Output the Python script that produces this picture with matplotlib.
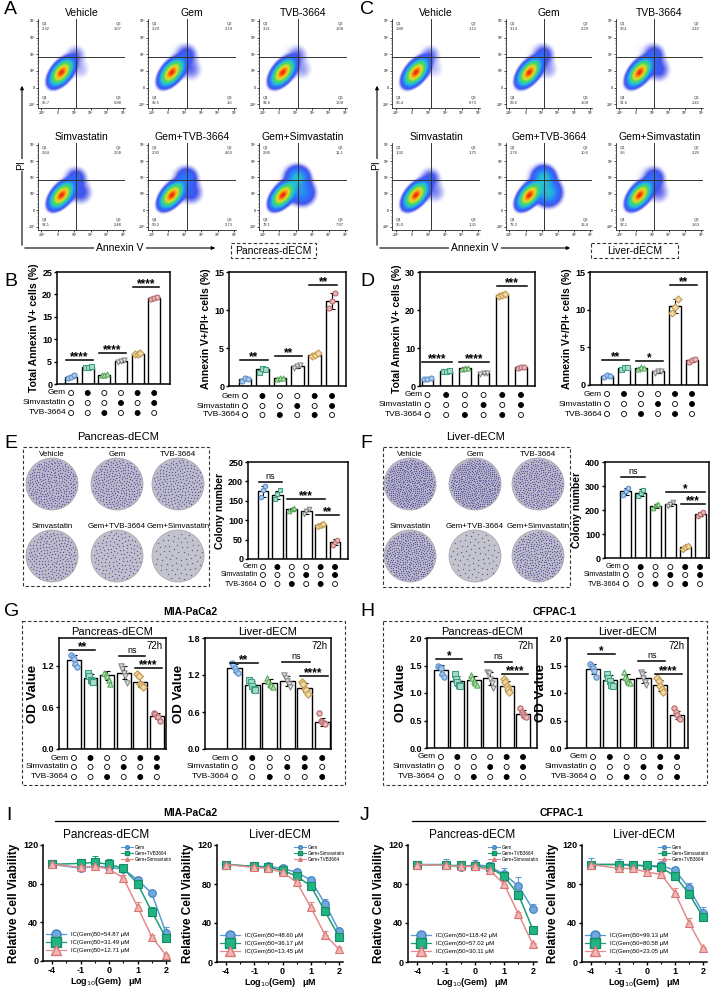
import numpy as np
import matplotlib
matplotlib.use("Agg")
import matplotlib.pyplot as plt
import matplotlib.transforms as mtransforms
from matplotlib.patches import Rectangle, Circle
from matplotlib.lines import Line2D
from matplotlib.colors import LinearSegmentedColormap, to_rgb

plt.rcParams['font.family'] = ['Liberation Sans', 'DejaVu Sans']
plt.rcParams['axes.linewidth'] = 1.1

# ---------------- data ----------------
TREAT = ['Vehicle', 'Gem', 'TVB-3664', 'Simvastatin', 'Gem+TVB-3664', 'Gem+Simvastatin']

# flow cytometry quadrant percentages (Q1 top-left, Q2 top-right, Q3 bottom-right, Q4 bottom-left)
FLOW_A_Q1 = [2.32, 3.29, 3.21, 2.64, 2.92, 2.86]
FLOW_A_Q2 = [1.07, 2.19, 1.08, 2.58, 4.63, 11.1]
FLOW_A_Q3 = [0.88, 1.60, 1.09, 2.48, 2.73, 7.97]
FLOW_A_Q4 = [95.7, 92.5, 94.6, 92.1, 90.2, 78.1]
FLOW_C_Q1 = [1.88, 3.14, 3.51, 1.92, 2.76, 3.60]
FLOW_C_Q2 = [1.13, 2.29, 2.42, 1.75, 10.6, 3.26]
FLOW_C_Q3 = [0.73, 1.09, 2.45, 1.35, 13.4, 1.63]
FLOW_C_Q4 = [96.4, 93.6, 91.6, 95.0, 73.2, 92.1]

# B / D apoptosis bars
B_TOTAL = [1.6, 3.9, 2.1, 5.1, 6.8, 19.2]
B_TOTAL_REP = [[1.3, 1.6, 1.9], [3.8, 3.9, 4.0], [1.9, 2.1, 2.2], [4.9, 5.1, 5.3], [6.6, 6.8, 6.9], [19.0, 19.2, 19.4]]
B_DOUBLE = [0.9, 2.2, 1.0, 2.6, 4.1, 11.2]
B_DOUBLE_REP = [[0.7, 1.0, 0.9], [1.9, 2.4, 2.3], [0.9, 1.1, 1.0], [2.4, 2.6, 2.8], [3.9, 4.1, 4.3], [10.2, 11.2, 12.3]]
D_TOTAL = [1.9, 4.0, 4.7, 3.3, 23.9, 4.9]
D_TOTAL_REP = [[1.8, 1.9, 2.0], [3.9, 4.0, 4.1], [4.5, 4.8, 4.8], [3.1, 3.3, 3.4], [23.6, 24.0, 24.2], [4.8, 5.0, 4.9]]
D_DOUBLE = [1.2, 2.3, 2.3, 1.8, 10.5, 3.3]
D_DOUBLE_REP = [[1.0, 1.3, 1.2], [2.1, 2.4, 2.4], [2.1, 2.4, 2.3], [1.6, 1.9, 1.8], [9.5, 10.4, 11.4], [3.1, 3.3, 3.5]]

# E / F colony numbers
COLONY_P = [175, 165, 128, 123, 87, 43]
COLONY_P_REP = [[160, 178, 188], [155, 168, 178], [125, 128, 132], [116, 124, 128], [84, 87, 90], [35, 45, 50]]
COLONY_L = [278, 272, 218, 225, 45, 183]
COLONY_L_REP = [[262, 280, 292], [258, 270, 285], [208, 220, 225], [215, 225, 232], [38, 45, 50], [175, 183, 192]]

# G / H OD values
OD_MP_P = [1.28, 1.03, 1.06, 1.10, 0.97, 0.48]
OD_MP_P_REP = [[1.36, 1.33, 1.30, 1.22, 1.18], [1.10, 1.05, 1.00, 0.98, 0.97], [1.10, 1.08, 1.05, 1.00, 0.93],
               [1.20, 1.15, 1.10, 1.05, 0.95], [1.08, 1.05, 0.93, 0.92, 0.90], [0.52, 0.50, 0.48, 0.46, 0.40]]
OD_MP_L = [1.31, 1.04, 1.07, 1.10, 0.99, 0.44]
OD_MP_L_REP = [[1.40, 1.36, 1.32, 1.26, 1.24], [1.12, 1.08, 1.02, 0.98, 0.96], [1.15, 1.10, 1.06, 1.03, 1.00],
               [1.20, 1.15, 1.10, 1.05, 1.00], [1.08, 1.05, 0.98, 0.95, 0.90], [0.58, 0.46, 0.44, 0.42, 0.41]]
OD_CF_P = [1.42, 1.22, 1.23, 1.27, 1.13, 0.62]
OD_CF_P_REP = [[1.50, 1.47, 1.45, 1.35, 1.30], [1.35, 1.25, 1.20, 1.15, 1.12], [1.33, 1.28, 1.22, 1.18, 1.15],
               [1.38, 1.36, 1.25, 1.18, 1.10], [1.25, 1.20, 1.12, 1.08, 1.02], [0.72, 0.66, 0.62, 0.58, 0.56]]
OD_CF_L = [1.43, 1.23, 1.26, 1.28, 1.14, 0.60]
OD_CF_L_REP = [[1.52, 1.50, 1.45, 1.40, 1.30], [1.35, 1.28, 1.22, 1.15, 1.12], [1.38, 1.30, 1.25, 1.20, 1.18],
               [1.38, 1.35, 1.28, 1.20, 1.15], [1.28, 1.22, 1.12, 1.08, 1.02], [0.72, 0.65, 0.60, 0.55, 0.52]]

ROWS_STD = [('Gem', [0, 1, 0, 0, 1, 1]), ('Simvastatin', [0, 0, 0, 1, 0, 1]), ('TVB-3664', [0, 0, 1, 0, 1, 0])]
ROWS_LIV = [('Gem', [0, 1, 0, 0, 1, 1]), ('Simvastatin', [0, 0, 0, 1, 1, 0]), ('TVB-3664', [0, 0, 1, 0, 0, 1])]

# I / J dose response
DOSE_LABELS = ['-4', '-1', '0', '1', '2']
DOSE_POS = [-2, -1, -0.5, 0, 0.5, 1, 1.5, 2]   # -4 drawn at axis break position -2
I_P_GEM = [100, 96, 98, 97, 95, 84, 70, 29]
I_P_GEM_ERR = [4, 3, 3, 3, 3, 3, 2, 6]
I_P_TVB = [100, 101, 102, 100, 96, 80, 51, 24]
I_P_TVB_ERR = [3, 5, 7, 6, 3, 4, 5, 3]
I_P_SIM = [100, 97, 98, 95, 86, 56, 25, 6]
I_P_SIM_ERR = [2, 2, 2, 3, 3, 5, 2, 1]
I_L_GEM = [100, 98, 98, 96, 92, 84, 60, 32]
I_L_GEM_ERR = [2, 2, 2, 2, 3, 3, 5, 2]
I_L_SIM = [100, 98, 97, 94, 88, 78, 52, 26]
I_L_SIM_ERR = [2, 2, 2, 2, 3, 3, 4, 2]
I_L_TVB = [100, 97, 96, 92, 82, 56, 28, 13]
I_L_TVB_ERR = [2, 2, 2, 2, 3, 6, 4, 2]
J_P_GEM = [100, 100, 97, 100, 98, 90, 78, 54]
J_P_GEM_ERR = [4, 6, 3, 5, 5, 6, 9, 6]
J_P_TVB = [100, 99, 99, 98, 97, 88, 69, 33]
J_P_TVB_ERR = [3, 3, 4, 3, 4, 3, 4, 2]
J_P_SIM = [100, 99, 98, 98, 94, 80, 49, 18]
J_P_SIM_ERR = [2, 2, 2, 2, 2, 3, 2, 1]
J_L_GEM = [100, 100, 100, 98, 99, 94, 76, 50]
J_L_GEM_ERR = [7, 6, 3, 3, 4, 3, 5, 6]
J_L_SIM = [100, 100, 99, 99, 97, 88, 70, 46]
J_L_SIM_ERR = [3, 3, 2, 4, 4, 3, 4, 3]
J_L_TVB = [100, 96, 96, 92, 90, 71, 40, 14]
J_L_TVB_ERR = [2, 2, 2, 2, 2, 5, 5, 1]

# ---------------- styles ----------------
MARKS = ['o', 's', '^', 'v', 'D', 'o']
EDGE = ['#5b8fcc', '#3f9f86', '#5aa85a', '#888888', '#c39a4f', '#b86a6a']
FACE = ['#a9c8ea', '#a8dcc8', '#c5e6c0', '#e4e4e4', '#f0d9a8', '#e8b8b8']
BLUE, GREEN, RED = '#5b9bd5', '#1a9e76', '#e48c8c'

W, H = 713, 989
fig = plt.figure(figsize=(W / 100, H / 100), dpi=100)
over = fig.add_axes([0, 0, 1, 1], zorder=5)
over.set_xlim(0, W)
over.set_ylim(H, 0)
over.axis('off')


def px_axes(x0, y0, x1, y1):
    return fig.add_axes([x0 / W, 1 - y1 / H, (x1 - x0) / W, (y1 - y0) / H])


def bold_ticks(ax):
    for t in ax.get_xticklabels() + ax.get_yticklabels():
        t.set_fontweight('bold')


# ---------------- flow cytometry ----------------
flow_cmap = LinearSegmentedColormap.from_list('flow', [
    (0, '#3a44e8'), (0.3, '#1f6dff'), (0.55, '#19c6c6'), (0.72, '#45d452'),
    (0.86, '#dfe01f'), (0.95, '#ff8a00'), (1, '#e42000')])


def flow_panel(rect, title, q1, q2, q3, q4):
    ax = px_axes(*rect)
    g = np.linspace(0, 1, 200)
    X, Y = np.meshgrid(g, g)
    ang = np.deg2rad(50)
    dx, dy = X - 0.27, Y - 0.40
    u = dx * np.cos(ang) + dy * np.sin(ang)
    v = -dx * np.sin(ang) + dy * np.cos(ang)
    su, sv = 0.075, 0.042
    d = q4 / (su * sv) * np.exp(-0.5 * (u ** 2 / su ** 2 + v ** 2 / sv ** 2))
    d += q2 / 0.065 ** 2 * np.exp(-0.5 * ((X - 0.44) ** 2 + (Y - 0.60) ** 2) / 0.065 ** 2)
    d += q3 / 0.075 ** 2 * np.exp(-0.5 * ((X - 0.49) ** 2 + (Y - 0.43) ** 2) / 0.075 ** 2)
    d += 0.4 * q1 / 0.16 ** 2 * np.exp(-0.5 * ((X - 0.25) ** 2 + (Y - 0.66) ** 2) / 0.16 ** 2)
    lv = np.log10(d / d.max() + 1e-12)
    c = np.clip((lv + 2.0) / 2.0, 0, 1)
    rgba = flow_cmap(c)
    a = np.clip((lv + 2.8) / 0.9, 0, 1)
    rgba[..., 3] = a ** 1.8 * 0.95
    ax.imshow(rgba, origin='lower', extent=(0, 1, 0, 1), aspect='auto', interpolation='bilinear')
    ax.axvline(0.44, color='#333333', lw=0.7)
    ax.axhline(0.57, color='#333333', lw=0.7)
    ax.set_xlim(0, 1)
    ax.set_ylim(0, 1)
    tk = np.linspace(0.04, 0.98, 6)
    labs = ['-10³', '0', '10³', '10⁴', '10⁵', '10⁶']
    ax.set_xticks(tk)
    ax.set_xticklabels(labs, fontsize=2.5)
    ax.set_yticks(tk)
    ax.set_yticklabels(labs, fontsize=2.5)
    ax.set_xticks(np.linspace(0.04, 0.98, 26), minor=True)
    ax.set_yticks(np.linspace(0.04, 0.98, 26), minor=True)
    ax.tick_params(length=1.5, width=0.5, pad=0.5)
    ax.tick_params(which='minor', length=0.8, width=0.3)
    for s in ['top', 'right']:
        ax.spines[s].set_visible(False)
    for s in ['left', 'bottom']:
        ax.spines[s].set_linewidth(0.5)
    kw = dict(fontsize=3, transform=ax.transAxes, color='#333333', linespacing=1.6)
    ax.text(0.04, 0.97, f'Q1\n{q1}', va='top', ha='left', **kw)
    ax.text(0.96, 0.97, f'Q2\n{q2}', va='top', ha='right', **kw)
    ax.text(0.04, 0.03, f'Q4\n{q4}', va='bottom', ha='left', **kw)
    ax.text(0.96, 0.03, f'Q3\n{q3}', va='bottom', ha='right', **kw)
    ax.set_title(title, fontsize=7.5, pad=2.5)


def flow_block(cols, q1s, q2s, q3s, q4s, ax_x, box_x, box_text):
    rows = [(19, 108), (143, 230)]
    for k in range(6):
        cx = cols[k % 3]
        ry = rows[k // 3]
        flow_panel((cx[0], ry[0], cx[1], ry[1]), TREAT[k], q1s[k], q2s[k], q3s[k], q4s[k])
    over.annotate('', xy=(ax_x, 83), xytext=(ax_x, 248),
                  arrowprops=dict(arrowstyle='-|>', lw=0.8, color='black', mutation_scale=5))
    over.annotate('', xy=(ax_x + 196, 248), xytext=(ax_x, 248),
                  arrowprops=dict(arrowstyle='-|>', lw=0.8, color='black', mutation_scale=5))
    over.text(ax_x - 1, 165, 'PI', rotation=90, ha='center', va='center', fontsize=7.5,
              bbox=dict(fc='white', ec='none', pad=1))
    over.text(ax_x + 98, 248, 'Annexin V', ha='center', va='center', fontsize=7.5,
              bbox=dict(fc='white', ec='none', pad=1.5))
    over.add_patch(Rectangle((box_x[0], 243), box_x[1] - box_x[0], 15, fill=False,
                             ls=(0, (3, 2)), lw=0.8, ec='#333333'))
    over.text((box_x[0] + box_x[1]) / 2, 250.5, box_text, ha='center', va='center', fontsize=7.5)


flow_block([(38, 125), (148, 236), (259, 347)], FLOW_A_Q1, FLOW_A_Q2, FLOW_A_Q3, FLOW_A_Q4,
           22, (231, 316), 'Pancreas-dECM')
flow_block([(392, 480), (506, 592), (616, 703)], FLOW_C_Q1, FLOW_C_Q2, FLOW_C_Q3, FLOW_C_Q4,
           377, (591, 678), 'Liver-dECM')


# ---------------- bar panels ----------------
def bar_panel(rect, xlim, means, reps, ylim, yticks, ylabel, sigs, rows, row_y,
              width=0.72, ms=3.6, ylab_size=7.5, tick_fmt=None, tag72=False, row_fs=6.0):
    ax = px_axes(*rect)
    xs = np.arange(len(means))
    ax.bar(xs, means, width, color='white', edgecolor='black', linewidth=1.0, zorder=2)
    for i in xs:
        r = np.asarray(reps[i], dtype=float)
        sd = r.std(ddof=1)
        ax.errorbar(i, means[i], yerr=sd, color='black', lw=0.8, capsize=1.8, capthick=0.8, zorder=3)
        off = np.linspace(-0.17, 0.17, len(r))
        ax.scatter(i + off, r, marker=MARKS[i], s=ms ** 2, facecolor=FACE[i], edgecolor=EDGE[i],
                   linewidth=0.8, zorder=4, clip_on=False)
    for i, j, y, t in sigs:
        ax.plot([i - 0.3, j + 0.3], [y, y], color='black', lw=1.1, zorder=5, clip_on=False)
        if '*' in t:
            ax.annotate(t, ((i + j) / 2, y), xytext=(0, -2.2), textcoords='offset points',
                        ha='center', va='bottom', fontsize=8.5, fontweight='bold', annotation_clip=False)
        else:
            ax.annotate(t, ((i + j) / 2, y), xytext=(0, 0.8), textcoords='offset points',
                        ha='center', va='bottom', fontsize=6.5, annotation_clip=False)
    ax.set_xlim(*xlim)
    ax.set_ylim(*ylim)
    ax.set_yticks(yticks)
    if tick_fmt:
        ax.set_yticklabels([tick_fmt.format(t) for t in yticks])
    ax.set_xticks([])
    ax.tick_params(axis='y', labelsize=6.5, length=2.5, width=1.0, pad=1)
    bold_ticks(ax)
    ax.set_ylabel(ylabel, fontsize=ylab_size, fontweight='bold', labelpad=2)
    if tag72:
        ax.text(0.97, 0.97, '72h', transform=ax.transAxes, ha='right', va='top', fontsize=7)
    tr = mtransforms.blended_transform_factory(ax.transData, over.transData)
    x0px = rect[0] + (0 - xlim[0]) / (xlim[1] - xlim[0]) * (rect[2] - rect[0])
    for (name, flags), yy in zip(rows, row_y):
        ax.scatter(xs, [yy] * len(xs), s=13, transform=tr, clip_on=False, zorder=6,
                   facecolor=['black' if f else 'white' for f in flags], edgecolor='black', linewidth=0.6)
        over.text(x0px - 5, yy, name, ha='right', va='center', fontsize=row_fs)
    return ax


# B
bar_panel((57, 272, 170, 384), (-0.85, 5.95), B_TOTAL, B_TOTAL_REP, (0, 25), [0, 5, 10, 15, 20, 25],
          'Total Annexin V+ cells (%)', [(0, 1, 5.4, '****'), (2, 3, 6.9, '****'), (4, 5, 21.6, '****')],
          ROWS_STD, (393, 403, 413))
bar_panel((229, 272, 346, 386), (-0.92, 5.8), B_DOUBLE, B_DOUBLE_REP, (0, 15), [0, 5, 10, 15],
          'Annexin V+/PI+ cells (%)', [(0, 1, 3.4, '**'), (2, 3, 3.9, '**'), (4, 5, 13.3, '**')],
          ROWS_STD, (396, 406, 415))
# D
bar_panel((420, 272, 535, 386), (-0.4, 5.75), D_TOTAL, D_TOTAL_REP, (0, 30), [0, 10, 20, 30],
          'Total Annexin V+ cells (%)', [(0, 1, 6.3, '****'), (2, 3, 6.3, '****'), (4, 5, 26.3, '***')],
          ROWS_STD, (395, 405, 415), width=0.62)
bar_panel((590, 272, 707, 385), (-1.0, 5.88), D_DOUBLE, D_DOUBLE_REP, (0, 15), [0, 5, 10, 15],
          'Annexin V+/PI+ cells (%)', [(0, 1, 3.3, '**'), (2, 3, 3.2, '*'), (4, 5, 13.3, '**')],
          ROWS_STD, (394, 404, 414))
# E / F bars
bar_panel((248, 462, 348, 559), (-1.04, 5.9), COLONY_P, COLONY_P_REP, (0, 250), [0, 50, 100, 150, 200, 250],
          'Colony number', [(0, 1, 198, 'ns'), (2, 4, 155, '***'), (4, 5, 113, '**')],
          ROWS_STD, (567, 575, 584), width=0.75, ms=3.2, row_fs=5.2)
bar_panel((605, 462, 709, 558), (-1.4, 5.6), COLONY_L, COLONY_L_REP, (0, 400), [0, 100, 200, 300, 400],
          'Colony number', [(0, 1, 337, 'ns'), (3, 5, 275, '*'), (4, 5, 225, '***')],
          ROWS_STD, (567, 575, 584), width=0.75, ms=3.2, row_fs=5.2)
# G
axg = bar_panel((59, 638, 166, 749), (-0.9, 5.55), OD_MP_P, OD_MP_P_REP, (0, 1.6), [0, 0.6, 1.2],
                'OD Value', [(0, 1, 1.43, '**'), (3, 4, 1.34, 'ns'), (4, 5, 1.17, '****')],
                ROWS_STD, (758, 767, 777), width=0.84, ms=3.8, ylab_size=9.5, tick_fmt='{:.1f}', tag72=True)
axg.set_title('Pancreas-dECM', fontsize=8, pad=2)
axg = bar_panel((205, 638, 331, 749), (-1.7, 5.5), OD_MP_L, OD_MP_L_REP, (0, 1.8), [0, 0.6, 1.2, 1.8],
                'OD Value', [(0, 1, 1.39, '**'), (3, 4, 1.41, 'ns'), (4, 5, 1.18, '****')],
                ROWS_LIV, (758, 767, 777), width=0.84, ms=3.8, ylab_size=9.5, tick_fmt='{:.1f}', tag72=True)
axg.set_title('Liver-dECM', fontsize=8, pad=2)
# H
axh = bar_panel((427, 638, 537, 748), (-0.85, 5.85), OD_CF_P, OD_CF_P_REP, (0, 2.0), [0, 0.5, 1.0, 1.5, 2.0],
                'OD Value', [(0, 1, 1.62, '*'), (3, 4, 1.56, 'ns'), (4, 5, 1.35, '****')],
                ROWS_STD, (757, 767, 777), width=0.84, ms=3.8, ylab_size=9.5, tick_fmt='{:.1f}', tag72=True)
axh.set_title('Pancreas-dECM', fontsize=8, pad=2)
axh = bar_panel((567, 638, 688, 748), (-1.55, 5.65), OD_CF_L, OD_CF_L_REP, (0, 2.0), [0, 0.5, 1.0, 1.5, 2.0],
                'OD Value', [(0, 1, 1.71, '*'), (3, 4, 1.58, 'ns'), (4, 5, 1.35, '****')],
                ROWS_LIV, (757, 767, 777), width=0.84, ms=3.8, ylab_size=9.5, tick_fmt='{:.1f}', tag72=True)
axh.set_title('Liver-dECM', fontsize=8, pad=2)


# ---------------- colony plates ----------------
def plates(cols, colonies, title, title_x, box):
    over.add_patch(Rectangle((box[0], box[1]), box[2] - box[0], box[3] - box[1], fill=False,
                             ls=(0, (3, 2)), lw=0.8, ec='#333333'))
    over.text(title_x, 437, title, ha='center', va='center', fontsize=8)
    rows = [(455, 484), (527, 556)]
    gray = np.array(to_rgb('#c6c6cc'))
    purple = np.array(to_rgb('#8a82c0'))
    cmax = max(colonies)
    for k in range(6):
        cx = cols[k % 3]
        ly, cy = rows[k // 3]
        frac = colonies[k] / cmax
        fc = gray * (1 - 0.2 * frac) + purple * 0.2 * frac
        over.add_patch(Circle((cx, cy), 26, fc=fc, ec='#a0a0a8', lw=0.5))
        n = int(colonies[k] * 1.6)
        idx = np.arange(1, n + 1)
        rr = 24.5 * np.sqrt(idx / n)
        th = idx * 2.39996
        over.scatter(cx + rr * np.cos(th), cy + rr * np.sin(th), s=1.0, color='#3c2f92',
                     alpha=0.7, linewidths=0)
        over.text(cx, ly, TREAT[k], ha='center', va='center', fontsize=5.8)


plates([52, 117, 178], COLONY_P, 'Pancreas-dECM', 118, (23, 447, 209, 586))
plates([410, 475, 538], COLONY_L, 'Liver-dECM', 476, (383, 447, 570, 587))

# G / H boxes
over.add_patch(Rectangle((22, 621), 323, 164, fill=False, ls=(0, (3, 2)), lw=0.8, ec='#333333'))
over.add_patch(Rectangle((383, 621), 324, 164, fill=False, ls=(0, (3, 2)), lw=0.8, ec='#333333'))
over.text(190, 612, 'MIA-PaCa2', ha='center', va='center', fontsize=7.5, fontweight='bold')
over.text(555, 612, 'CFPAC-1', ha='center', va='center', fontsize=7.5, fontweight='bold')


# ---------------- dose response ----------------
def curve_panel(rect, title, series, top_labels, ic_labels):
    ax = px_axes(*rect)
    handles_s, handles_b = [], []
    for (vals, errs, col, face, edge, mk) in series:
        ax.errorbar(DOSE_POS, vals, yerr=[np.zeros(len(errs)), errs], color=col, marker=mk, ms=5.5,
                    mfc=face, mec=edge, mew=0.8, lw=1.1, capsize=2, elinewidth=0.8, capthick=0.8,
                    clip_on=False, zorder=3)
        handles_s.append(Line2D([], [], color=col, marker=mk, ms=2.6, mfc=face, mec=edge, lw=0.8))
        handles_b.append(Line2D([], [], color=col, marker=mk, ms=6.5, mfc=face, mec=edge, lw=0.9))
    ax.set_xlim(-2.32, 2.14)
    ax.set_ylim(0, 120)
    ax.set_xticks([-2, -1, 0, 1, 2])
    ax.set_xticklabels(DOSE_LABELS)
    ax.set_xticks([-1.5, -0.5, 0.5, 1.5], minor=True)
    ax.set_yticks([0, 40, 80, 120])
    ax.tick_params(labelsize=6.5, length=2.5, width=1.0, pad=1)
    ax.tick_params(which='minor', length=1.6, width=0.8)
    bold_ticks(ax)
    for s in ['top', 'right']:
        ax.spines[s].set_visible(False)
    ax.set_ylabel('Relative Cell Viability', fontsize=8.5, fontweight='bold', labelpad=2)
    ax.set_xlabel('Log$_{10}$(Gem)   μM', fontsize=6.5, fontweight='bold', labelpad=0)
    ax.set_title(title, fontsize=8.5, pad=5)
    leg1 = ax.legend(handles_s, top_labels, loc='upper right', bbox_to_anchor=(1.04, 1.03), fontsize=3.3,
                     frameon=False, handlelength=2.6, handletextpad=0.4, labelspacing=0.25, borderpad=0.2)
    ax.add_artist(leg1)
    ax.legend(handles_b, ic_labels, loc='lower left', bbox_to_anchor=(-0.01, 0.03), fontsize=4.3,
              frameon=False, handlelength=3.4, handletextpad=0.8, labelspacing=0.5, borderpad=0.2)
    return ax


def s_gem(v, e):
    return (v, e, BLUE, '#6fa8dc', '#3f80c0', 'o')


def s_green(v, e):
    return (v, e, GREEN, '#22b383', '#178a66', 's')


def s_red(v, e):
    return (v, e, RED, '#f4b4b4', '#d87676', '^')


curve_panel((43, 845, 170, 961), 'Pancreas-dECM',
            [s_gem(I_P_GEM, I_P_GEM_ERR), s_green(I_P_TVB, I_P_TVB_ERR), s_red(I_P_SIM, I_P_SIM_ERR)],
            ['Gem', 'Gem+TVB3664', 'Gem+Simvastatin'],
            ['IC(Gem)50=54.87 μM', 'IC(Gem)50=31.49 μM', 'IC(Gem)50=12.71 μM'])
curve_panel((217, 845, 343, 962), 'Liver-dECM',
            [s_gem(I_L_GEM, I_L_GEM_ERR), s_green(I_L_SIM, I_L_SIM_ERR), s_red(I_L_TVB, I_L_TVB_ERR)],
            ['Gem', 'Gem+Simvastatin', 'Gem+TVB3664'],
            ['IC(Gem)50=48.60 μM', 'IC(Gem)50=36.17 μM', 'IC(Gem)50=13.45 μM'])
curve_panel((408, 845, 537, 962), 'Pancreas-dECM',
            [s_gem(J_P_GEM, J_P_GEM_ERR), s_green(J_P_TVB, J_P_TVB_ERR), s_red(J_P_SIM, J_P_SIM_ERR)],
            ['Gem', 'Gem+TVB3664', 'Gem+Simvastatin'],
            ['IC(Gem)50=118.42 μM', 'IC(Gem)50=57.02 μM', 'IC(Gem)50=30.11 μM'])
curve_panel((582, 845, 707, 962), 'Liver-dECM',
            [s_gem(J_L_GEM, J_L_GEM_ERR), s_green(J_L_SIM, J_L_SIM_ERR), s_red(J_L_TVB, J_L_TVB_ERR)],
            ['Gem', 'Gem+Simvastatin', 'Gem+TVB3664'],
            ['IC(Gem)50=99.13 μM', 'IC(Gem)50=80.58 μM', 'IC(Gem)50=23.05 μM'])

over.text(190, 813, 'MIA-PaCa2', ha='center', va='center', fontsize=7.5, fontweight='bold')
over.plot([55, 338], [821, 821], color='black', lw=0.9)
over.text(562, 813, 'CFPAC-1', ha='center', va='center', fontsize=7.5, fontweight='bold')
over.plot([412, 705], [821, 821], color='black', lw=0.9)

# panel letters
for lab, x, y in [('A', 4, 10), ('B', 4, 281), ('C', 360, 10), ('D', 360, 281), ('E', 4, 444),
                  ('F', 360, 444), ('G', 4, 611), ('H', 360, 611), ('I', 6, 816), ('J', 360, 816)]:
    over.text(x, y, lab, ha='left', va='center', fontsize=14)

fig.savefig('out.png', dpi=100)
